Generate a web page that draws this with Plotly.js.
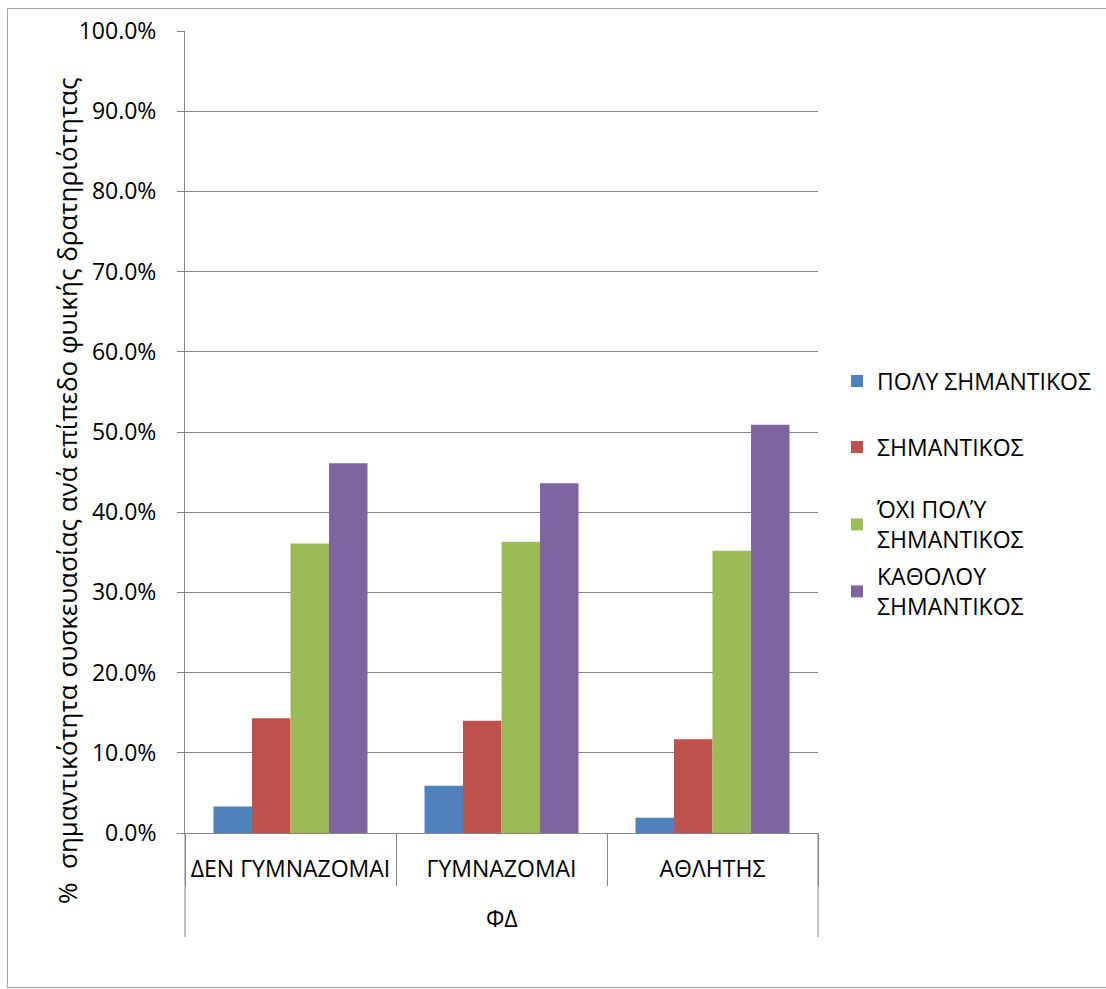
<!DOCTYPE html>
<html>
<head>
<meta charset="utf-8">
<script src="https://cdn.plot.ly/plotly-3.0.1.min.js"></script>
<style>
html,body{margin:0;padding:0;background:#fff;}
#chart{width:1106px;height:989px;}
</style>
</head>
<body>
<div id="chart"></div>
<script>
const categories = ["ΔΕΝ ΓΥΜΝΑΖΟΜΑΙ", "ΓΥΜΝΑΖΟΜΑΙ", "ΑΘΛΗΤΗΣ"];
const seriesNames = ["ΠΟΛΥ ΣΗΜΑΝΤΙΚΟΣ", "ΣΗΜΑΝΤΙΚΟΣ", "ΌΧΙ ΠΟΛΎ<br>ΣΗΜΑΝΤΙΚΟΣ", "ΚΑΘΟΛΟΥ<br>ΣΗΜΑΝΤΙΚΟΣ"];
const polySimantikos = [3.3, 5.9, 1.9];
const simantikos = [14.3, 14.0, 11.7];
const oxiPolySimantikos = [36.1, 36.3, 35.2];
const katholouSimantikos = [46.1, 43.6, 50.9];
const yTickValues = [0, 10, 20, 30, 40, 50, 60, 70, 80, 90, 100];
const yTitle = "%  σημαντικότητα συσκευασίας ανά επίπεδο φυικής δρατηριότητας";
const xTitle = "ΦΔ";

const colors = ["#4F81BD", "#C0504D", "#9BBB59", "#8064A2"];
const allSeries = [polySimantikos, simantikos, oxiPolySimantikos, katholouSimantikos];
const legendIds = ["legend", "legend2", "legend3", "legend4"];

const FONT = "'Open Sans', 'Noto Sans', sans-serif";
const FS = 23;
const W = 1106, H = 989;
const L = 185, R = 818, T = 31, B = 833;
const pw = R - L, ph = B - T;
const px = x => (x - L) / pw;
const py = y => (B - y) / ph;

const traces = allSeries.map((vals, i) => ({
  type: "bar",
  name: seriesNames[i],
  x: categories,
  y: vals,
  marker: {color: colors[i], line: {width: 0}},
  legend: legendIds[i],
  hoverinfo: "skip"
}));

const legendCenters = [381, 447, 524.5, 591.5];
const legendBase = {
  xanchor: "left", yanchor: "middle",
  font: {family: FONT, size: FS, color: "#000"},
  bgcolor: "rgba(0,0,0,0)", borderwidth: 0,
  itemclick: false, itemdoubleclick: false
};
const layoutLegends = {};
legendIds.forEach((id, i) => {
  layoutLegends[id] = Object.assign({}, legendBase, {x: px(837), y: py(legendCenters[i])});
});

const layout = Object.assign({
  width: W, height: H,
  margin: {l: L, r: W - R, t: T, b: H - B, pad: 0, autoexpand: false},
  paper_bgcolor: "#fff", plot_bgcolor: "#fff",
  font: {family: FONT, size: FS, color: "#000"},
  barmode: "group",
  bargap: 0.27,
  bargroupgap: 0,
  showlegend: true,
  xaxis: {
    type: "category",
    showline: true, linecolor: "#868686", linewidth: 1,
    ticks: "outside", tickson: "boundaries", ticklen: 52, tickcolor: "#868686", tickwidth: 1,
    ticklabelstandoff: 15,
    tickfont: {family: FONT, size: FS, color: "#000"},
    showgrid: false, zeroline: false, fixedrange: true, automargin: false
  },
  yaxis: {
    range: [0, 100],
    tickvals: yTickValues,
    ticktext: yTickValues.map(v => v.toFixed(1) + "%"),
    showline: true, linecolor: "#868686", linewidth: 1,
    ticks: "outside", ticklen: 7, tickcolor: "#868686", tickwidth: 1,
    ticklabelstandoff: 16,
    tickfont: {family: FONT, size: FS, color: "#000"},
    showgrid: true, gridcolor: "#868686", gridwidth: 1,
    zeroline: false, fixedrange: true, automargin: false
  },
  annotations: [
    {text: yTitle, xref: "paper", yref: "paper", x: px(67), y: py(491),
     xanchor: "center", yanchor: "middle", textangle: -90, showarrow: false,
     font: {family: FONT, size: 26, color: "#000"}},
    {text: xTitle, xref: "paper", yref: "paper", x: 0.5, y: py(918),
     xanchor: "center", yanchor: "middle", showarrow: false,
     font: {family: FONT, size: FS, color: "#000"}}
  ],
  shapes: [
    {type: "line", xref: "paper", yref: "paper", x0: 0, x1: 0, y0: 0, y1: py(937),
     line: {color: "#868686", width: 1}},
    {type: "line", xref: "paper", yref: "paper", x0: 1, x1: 1, y0: 0, y1: py(937),
     line: {color: "#868686", width: 1}},
    {type: "rect", xref: "paper", yref: "paper", x0: px(7.5), x1: px(1112), y0: py(987.5), y1: py(8.5),
     line: {color: "#a0a0a0", width: 1}, fillcolor: "rgba(0,0,0,0)", layer: "below"}
  ]
}, layoutLegends);

Plotly.newPlot("chart", traces, layout, {displayModeBar: false, responsive: false});
</script>
</body>
</html>
